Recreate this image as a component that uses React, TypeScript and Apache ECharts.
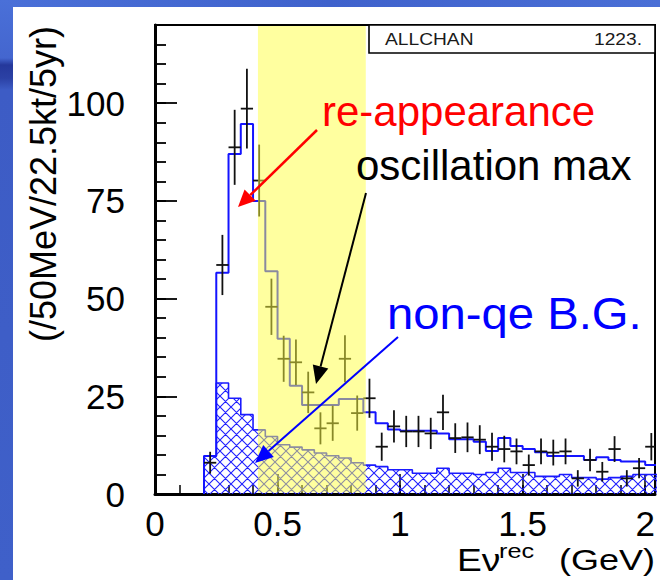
import React, { useEffect, useRef } from 'react';
import * as echarts from 'echarts';

// ---- data (bins of 50 MeV starting at 0.2 GeV) ----
const BIN_START = 0.2;
const BIN_WIDTH = 0.05;

// total expectation (open blue histogram)
const mcTotal = [
  9.7, 56.6, 87.0, 94.7, 75.0, 57.0, 39.7, 27.7, 22.8, 22.8,
  22.8, 24.3, 24.3, 20.9, 18.1, 16.5, 16.2, 16.2, 16.2, 15.5,
  14.0, 14.0, 13.4, 11.0, 14.3, 12.3, 11.5, 10.7, 9.7, 9.7,
  9.7, 8.7, 9.4, 8.7, 8.3, 8.3, 7.4,
];

// non-qe background (hatched histogram)
const bgNonQE = [
  9.7, 28.4, 24.5, 20.3, 16.4, 14.7, 12.6, 12.0, 11.3, 10.5,
  9.8, 9.2, 8.0, 7.4, 7.0, 6.2, 6.2, 5.3, 5.3, 6.6,
  5.3, 5.3, 5.0, 5.5, 6.6, 5.5, 5.5, 4.5, 4.5, 5.0,
  4.2, 4.2, 3.8, 4.2, 4.5, 5.0, 5.0,
];

// pseudo-data points and their errors
const dataCounts = [
  8.0, 58.6, 88.7, 98.6, 80.2, 47.9, 34.6, 33.7, 26.0, 16.8,
  18.1, 34.6, 20.7, 24.5, 12.1, 17.3, 16.0, 16.0, 15.5, 20.9,
  14.3, 14.5, 13.9, 12.1, 11.5, 10.9, 7.4, 10.9, 10.6, 10.9,
  4.0, 8.7, 5.7, 11.5, 4.0, 6.6, 12.1,
];
const dataErrors = [
  2.8, 7.7, 9.6, 10.2, 9.2, 7.2, 5.9, 5.8, 5.3, 4.1,
  4.5, 6.0, 4.5, 5.0, 3.6, 4.1, 4.0, 4.0, 4.0, 4.5,
  3.8, 3.8, 3.7, 3.6, 3.4, 3.3, 2.7, 3.3, 3.3, 3.3,
  2.1, 2.9, 2.5, 3.3, 2.1, 2.6, 3.5,
];

// oscillation-maximum energy band (GeV)
const oscMaxBand = [0.42, 0.86];

const X_MIN = 0;
const X_MAX = 2.04;
const Y_MIN = 0;
const Y_MAX = 120;

const FONT = 'Liberation Sans, Arial, Helvetica, sans-serif';

function stepPoints(values: number[]) {
  const pts: number[][] = [[BIN_START, 0]];
  values.forEach((v, i) => {
    const lo = BIN_START + i * BIN_WIDTH;
    pts.push([lo, v], [lo + BIN_WIDTH, v]);
  });
  pts.push([BIN_START + values.length * BIN_WIDTH, 0]);
  return pts;
}

function makeHatch() {
  const s = 11;
  const c = document.createElement('canvas');
  c.width = s;
  c.height = s;
  const g = c.getContext('2d') as CanvasRenderingContext2D;
  g.strokeStyle = '#1f1fff';
  g.lineWidth = 1.1;
  g.beginPath();
  for (const d of [-s, 0, s]) {
    g.moveTo(d - 1, -1);
    g.lineTo(d + s + 1, s + 1);
    g.moveTo(d + s + 1, -1);
    g.lineTo(d - 1, s + 1);
  }
  g.stroke();
  return c;
}

function arrow(x1: number, y1: number, x2: number, y2: number, color: string, lw: number, L: number, W: number) {
  const dx = x2 - x1;
  const dy = y2 - y1;
  const len = Math.hypot(dx, dy);
  const ux = dx / len;
  const uy = dy / len;
  const bx = x2 - ux * L;
  const by = y2 - uy * L;
  const px = -uy;
  const py = ux;
  return [
    { type: 'line', z: 30, shape: { x1, y1, x2: bx, y2: by }, style: { stroke: color, lineWidth: lw } },
    {
      type: 'polygon',
      z: 30,
      shape: { points: [[x2, y2], [bx + px * W, by + py * W], [bx - px * W, by - py * W]] },
      style: { fill: color },
    },
  ];
}

function txt(text: string, x: number, y: number, size: number, color: string, opts: any = {}) {
  return {
    type: 'text',
    z: 30,
    x,
    y,
    scaleX: opts.scaleX ?? 1,
    rotation: opts.rotation ?? 0,
    style: {
      text,
      fill: color,
      fontSize: size,
      fontFamily: FONT,
      fontWeight: opts.weight ?? 'normal',
      align: opts.align ?? 'left',
      textAlign: opts.align ?? 'left',
      verticalAlign: 'middle',
      textVerticalAlign: 'middle',
    },
  };
}

export default function App() {
  const ref = useRef<HTMLDivElement>(null);

  useEffect(() => {
    if (!ref.current) return;
    const chart = echarts.init(ref.current, null, { renderer: 'svg' });
    const hatch = makeHatch();

    const xLabelFmt = (v: number) => {
      const r = Math.round(v * 2) / 2;
      return Math.abs(v - r) < 1e-6 ? String(r) : '';
    };
    const yLabelFmt = (v: number) => (Math.abs(v % 25) < 1e-6 && v <= 100 ? String(v) : '');

    const option: any = {
      animation: false,
      backgroundColor: '#ffffff',
      textStyle: { fontFamily: FONT },
      grid: {
        left: 155,
        top: 25,
        right: 5,
        bottom: 86,
        show: true,
        borderColor: '#000',
        borderWidth: 2,
        backgroundColor: 'transparent',
      },
      xAxis: [
        {
          type: 'value',
          position: 'bottom',
          min: X_MIN,
          max: X_MAX,
          interval: 0.1,
          axisLine: { show: true, onZero: false, lineStyle: { color: '#000', width: 3 } },
          axisTick: { show: true, inside: true, length: 9, lineStyle: { color: '#000', width: 1.5 } },
          axisLabel: { show: true, margin: 12, fontSize: 35, color: '#000', fontFamily: FONT, formatter: xLabelFmt },
          splitLine: { show: false },
        },
        {
          type: 'value',
          position: 'bottom',
          min: X_MIN,
          max: X_MAX,
          interval: 0.5,
          axisLine: { show: false },
          axisTick: { show: true, inside: true, length: 20, lineStyle: { color: '#000', width: 1.5 } },
          axisLabel: { show: false },
          splitLine: { show: false },
        },
      ],
      yAxis: [
        {
          type: 'value',
          position: 'left',
          min: Y_MIN,
          max: Y_MAX,
          interval: 5,
          axisLine: { show: true, onZero: false, lineStyle: { color: '#000', width: 3 } },
          axisTick: { show: true, inside: true, length: 11, lineStyle: { color: '#000', width: 1.8 } },
          axisLabel: { show: true, margin: 30, fontSize: 35, color: '#000', fontFamily: FONT, formatter: yLabelFmt },
          splitLine: { show: false },
        },
        {
          type: 'value',
          position: 'left',
          min: Y_MIN,
          max: Y_MAX,
          interval: 25,
          axisLine: { show: false },
          axisTick: { show: true, inside: true, length: 22, lineStyle: { color: '#000', width: 1.8 } },
          axisLabel: { show: false },
          splitLine: { show: false },
        },
      ],
      series: [
        {
          name: 'non-qe B.G.',
          type: 'line',
          xAxisIndex: 0,
          yAxisIndex: 0,
          z: 2,
          data: stepPoints(bgNonQE),
          symbol: 'none',
          showSymbol: false,
          clip: true,
          silent: true,
          lineStyle: { color: '#1a1aff', width: 1.6 },
          areaStyle: {
            color: { image: hatch, repeat: 'repeat', imageWidth: 11, imageHeight: 11 },
            opacity: 1,
          },
        },
        {
          name: 'expected',
          type: 'line',
          xAxisIndex: 0,
          yAxisIndex: 0,
          z: 3,
          data: stepPoints(mcTotal),
          symbol: 'none',
          showSymbol: false,
          clip: true,
          silent: true,
          lineStyle: { color: '#1414ff', width: 2 },
        },
        {
          name: 'data',
          type: 'custom',
          xAxisIndex: 0,
          yAxisIndex: 0,
          z: 4,
          clip: true,
          silent: true,
          data: dataCounts.map((v, i) => [BIN_START + BIN_WIDTH * (i + 0.5), v, dataErrors[i]]),
          encode: { x: 0, y: 1 },
          renderItem: (params: any, api: any) => {
            const x = api.value(0);
            const y = api.value(1);
            const e = api.value(2);
            const top = api.coord([x, y + e]);
            const bot = api.coord([x, Math.max(0, y - e)]);
            const l = api.coord([x - BIN_WIDTH / 2, y]);
            const r = api.coord([x + BIN_WIDTH / 2, y]);
            return {
              type: 'group',
              children: [
                { type: 'line', shape: { x1: top[0], y1: top[1], x2: bot[0], y2: bot[1] }, style: { stroke: '#111', lineWidth: 1.8 } },
                { type: 'line', shape: { x1: l[0], y1: l[1], x2: r[0], y2: r[1] }, style: { stroke: '#111', lineWidth: 1.8 } },
              ],
            };
          },
        },
        {
          name: 'oscillation max band',
          type: 'custom',
          xAxisIndex: 0,
          yAxisIndex: 0,
          z: 6,
          silent: true,
          data: [[oscMaxBand[0], oscMaxBand[1]]],
          renderItem: (params: any, api: any) => {
            const a = api.coord([api.value(0), 0]);
            const b = api.coord([api.value(1), 0]);
            const cs = params.coordSys;
            return {
              type: 'rect',
              shape: { x: a[0], y: cs.y + 1, width: b[0] - a[0], height: cs.height - 2.5 },
              style: { fill: 'rgba(255,255,64,0.5)' },
            };
          },
        },
      ],
      graphic: [
        // slide template bands
        {
          type: 'rect',
          z: -5,
          silent: true,
          shape: { x: 0, y: 0, width: 660, height: 7 },
          style: {
            fill: {
              type: 'linear', x: 0, y: 0, x2: 1, y2: 0,
              colorStops: [
                { offset: 0, color: '#4a70d8' },
                { offset: 0.5, color: '#3f62cc' },
                { offset: 1, color: '#4a6fd6' },
              ],
            },
          },
        },
        {
          type: 'rect',
          z: -5,
          silent: true,
          shape: { x: 0, y: 0, width: 13, height: 580 },
          style: {
            fill: {
              type: 'linear', x: 0, y: 0, x2: 0, y2: 1,
              colorStops: [
                { offset: 0, color: '#4a70d8' },
                { offset: 0.1, color: '#4466cf' },
                { offset: 0.112, color: '#25389b' },
                { offset: 0.135, color: '#2b41a5' },
                { offset: 0.155, color: '#3d5cc5' },
                { offset: 1, color: '#3f60c9' },
              ],
            },
          },
        },
        // ALLCHAN stat box
        {
          type: 'rect',
          z: 20,
          silent: true,
          shape: { x: 369, y: 25, width: 286, height: 28 },
          style: { fill: '#fff', stroke: '#000', lineWidth: 1.6 },
        },
        txt('ALLCHAN', 385, 39.5, 16, '#1a1a1a', { scaleX: 1.2 }),
        txt('1223.', 642, 39.5, 16, '#1a1a1a', { scaleX: 1.2, align: 'right' }),
        // y-axis title
        txt('(/50MeV/22.5kt/5yr)', 43.5, 184, 36, '#000', { rotation: Math.PI / 2, align: 'center' }),
        // x-axis title
        txt('E\u03bd', 457, 560, 31, '#000', { scaleX: 1.2 }),
        txt('rec', 499, 551, 21, '#000', { scaleX: 1.2 }),
        txt('(GeV)', 559, 560, 30, '#000', { scaleX: 1.2 }),
        // annotations
        txt('re-appearance', 322, 111.5, 42, '#ff0000'),
        ...arrow(317, 130, 238, 207, '#ff0000', 2.5, 17, 8),
        txt('oscillation max', 356, 165.5, 42, '#000000'),
        ...arrow(366, 193, 316, 384, '#000000', 2, 18, 8),
        txt('non-qe B.G.', 387, 313, 45, '#0000ff', { scaleX: 1.05 }),
        ...arrow(398, 337, 255, 463, '#0000ff', 2, 18, 8),
      ],
    };

    chart.setOption(option);
    return () => chart.dispose();
  }, []);

  return <div ref={ref} style={{ position: 'fixed', left: 0, top: 0, width: 660, height: 580 }} />;
}
